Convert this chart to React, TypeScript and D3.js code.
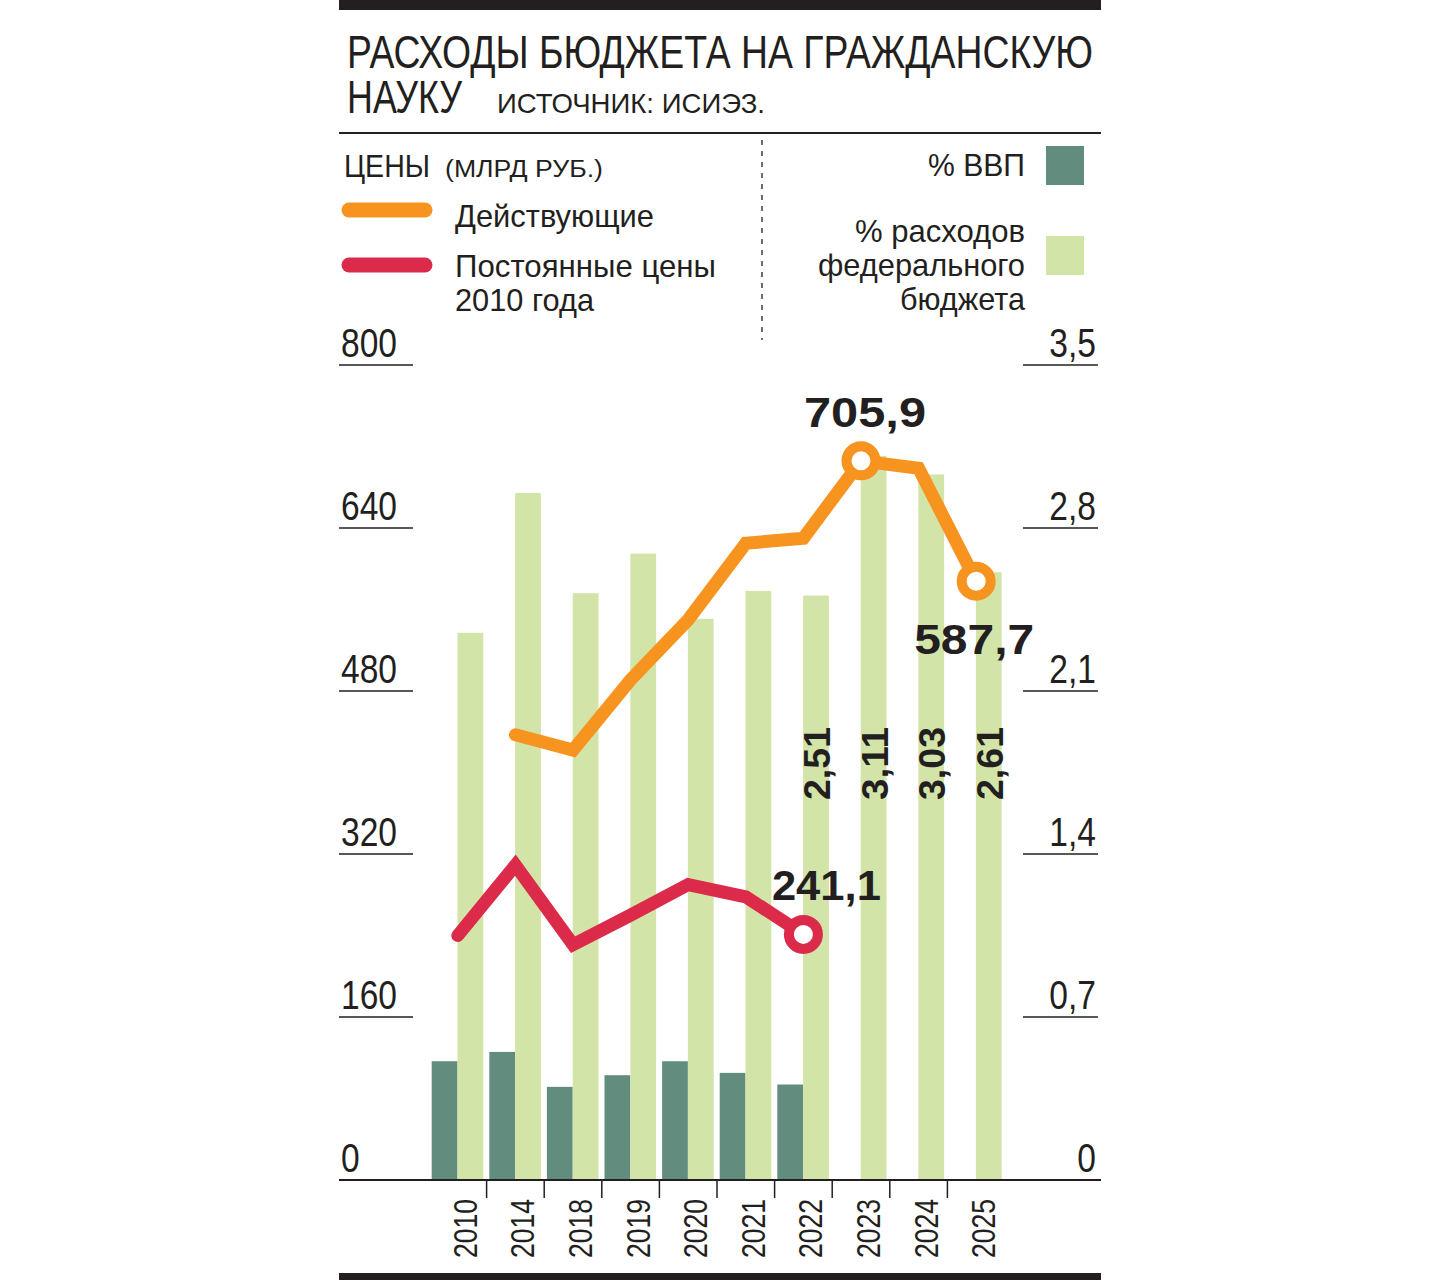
import React from "react";
import * as d3 from "d3";

const years = ["2010", "2014", "2018", "2019", "2020", "2021", "2022", "2023", "2024", "2025"];
const gdpShare: (number | null)[] = [0.51, 0.55, 0.4, 0.45, 0.51, 0.46, 0.41, null, null, null];
const budgetShare = [2.35, 2.95, 2.52, 2.69, 2.41, 2.53, 2.51, 3.11, 3.03, 2.61];
const budgetShareLabels = ["", "", "", "", "", "", "2,51", "3,11", "3,03", "2,61"];
const currentPrices: (number | null)[] = [null, 437, 422, 491, 550, 625, 630, 705.9, 698.6, 587.7];
const constantPrices: (number | null)[] = [240, 309, 231, 260, 290, 278, 241.1, null, null, null];
const leftTicks = [0, 160, 320, 480, 640, 800];
const rightTicks = [0, 0.7, 1.4, 2.1, 2.8, 3.5];

const C_TEXT = "#231f20";
const C_ORANGE = "#f7941f";
const C_RED = "#dc2a4b";
const C_DARK = "#628c7e";
const C_LIGHT = "#d3e4a9";
const NARROW = "'Liberation Sans Narrow', 'Arial Narrow', 'Liberation Sans', Arial, sans-serif";
const SANS = "'Liberation Sans', Arial, sans-serif";

export default function App() {
  const x = d3.scaleBand<string>().domain(years).range([429, 1005]).paddingInner(0).paddingOuter(0);
  const yL = d3.scaleLinear().domain([0, 800]).range([1180, 365]);
  const yR = d3.scaleLinear().domain([0, 3.5]).range([1180, 365]);
  const bw = x.bandwidth();
  const cx = (y: string) => (x(y) as number) + bw / 2;

  const mkLine = (vals: (number | null)[]) =>
    d3
      .line<number>()
      .defined((_, i) => vals[i] != null)
      .x((_, i) => cx(years[i]))
      .y((_, i) => yL(vals[i] as number))(vals.map((v) => (v == null ? 0 : v)));

  const fmtR = (v: number) => (v === 0 ? "0" : d3.format(".1f")(v).replace(".", ","));

  const lastIdx = (vals: (number | null)[]) => {
    let k = -1;
    vals.forEach((v, i) => { if (v != null) k = i; });
    return k;
  };
  const maxIdx = currentPrices.indexOf(d3.max(currentPrices as number[]) as number);
  const curLast = lastIdx(currentPrices);
  const conLast = lastIdx(constantPrices);

  return (
    <svg width={1440} height={1280} style={{ position: "absolute", left: 0, top: 0, background: "#fff" }}>
      {/* frame */}
      <rect x={339} y={0} width={762} height={10} fill={C_TEXT} />
      <rect x={339} y={1273} width={762} height={7} fill={C_TEXT} />
      <line x1={339} x2={1101} y1={133} y2={133} stroke={C_TEXT} strokeWidth={2} />
      <line x1={762} x2={762} y1={140} y2={340} stroke={C_TEXT} strokeWidth={1.3} strokeDasharray="5 6" />

      {/* title */}
      <text x={347} y={68} fontFamily={NARROW} fontSize={46} fill={C_TEXT} textLength={746} lengthAdjust="spacingAndGlyphs">
        РАСХОДЫ БЮДЖЕТА НА ГРАЖДАНСКУЮ
      </text>
      <text x={347} y={113} fontFamily={NARROW} fontSize={46} fill={C_TEXT} textLength={115} lengthAdjust="spacingAndGlyphs">
        НАУКУ
      </text>
      <text x={497} y={113} fontFamily={NARROW} fontSize={28} fill={C_TEXT} textLength={268} lengthAdjust="spacingAndGlyphs">
        ИСТОЧНИК: ИСИЭЗ.
      </text>

      {/* left legend */}
      <text x={344} y={177} fontFamily={NARROW} fontSize={32} fill={C_TEXT} textLength={86} lengthAdjust="spacingAndGlyphs">ЦЕНЫ</text>
      <text x={445} y={177} fontFamily={NARROW} fontSize={23} fill={C_TEXT} textLength={158} lengthAdjust="spacingAndGlyphs">(МЛРД РУБ.)</text>
      <line x1={349} x2={425} y1={210} y2={210} stroke={C_ORANGE} strokeWidth={15} strokeLinecap="round" />
      <text x={455} y={227} fontFamily={NARROW} fontSize={32} fill={C_TEXT} textLength={199} lengthAdjust="spacingAndGlyphs">Действующие</text>
      <line x1={349} x2={425} y1={265} y2={265} stroke={C_RED} strokeWidth={15} strokeLinecap="round" />
      <text x={455} y={277} fontFamily={NARROW} fontSize={32} fill={C_TEXT} textLength={261} lengthAdjust="spacingAndGlyphs">Постоянные цены</text>
      <text x={455} y={311} fontFamily={NARROW} fontSize={32} fill={C_TEXT} textLength={139} lengthAdjust="spacingAndGlyphs">2010 года</text>

      {/* right legend */}
      <text x={1025} y={176} textAnchor="end" fontFamily={NARROW} fontSize={32} fill={C_TEXT} textLength={97} lengthAdjust="spacingAndGlyphs">% ВВП</text>
      <rect x={1046} y={146} width={38} height={39} fill={C_DARK} />
      <text x={1025} y={242} textAnchor="end" fontFamily={NARROW} fontSize={32} fill={C_TEXT} textLength={170} lengthAdjust="spacingAndGlyphs">% расходов</text>
      <text x={1025} y={276} textAnchor="end" fontFamily={NARROW} fontSize={32} fill={C_TEXT} textLength={207} lengthAdjust="spacingAndGlyphs">федерального</text>
      <text x={1025} y={310} textAnchor="end" fontFamily={NARROW} fontSize={32} fill={C_TEXT} textLength={125} lengthAdjust="spacingAndGlyphs">бюджета</text>
      <rect x={1046} y={236} width={38} height={39} fill={C_LIGHT} />

      {/* axes ticks */}
      {leftTicks.map((t) => (
        <g key={"l" + t}>
          {t !== 0 && <line x1={339} x2={413} y1={yL(t)} y2={yL(t)} stroke={C_TEXT} strokeWidth={1.5} />}
          <text transform={`translate(341,${yL(t) - 8}) scale(0.84,1)`} fontFamily={NARROW} fontSize={40} fill={C_TEXT}>{t}</text>
        </g>
      ))}
      {rightTicks.map((t) => (
        <g key={"r" + t}>
          {t !== 0 && <line x1={1023} x2={1098} y1={yR(t)} y2={yR(t)} stroke={C_TEXT} strokeWidth={1.5} />}
          <text transform={`translate(1096,${yR(t) - 8}) scale(0.84,1)`} textAnchor="end" fontFamily={NARROW} fontSize={40} fill={C_TEXT}>{fmtR(t)}</text>
        </g>
      ))}

      {/* bars */}
      {years.map((y, i) => (
        <g key={"b" + y}>
          {gdpShare[i] != null && (
            <rect x={(x(y) as number) + 2.7} y={yR(gdpShare[i] as number)} width={25.8} height={1180 - yR(gdpShare[i] as number)} fill={C_DARK} />
          )}
          <rect x={(x(y) as number) + 28.5} y={yR(budgetShare[i])} width={25.8} height={1180 - yR(budgetShare[i])} fill={C_LIGHT} />
        </g>
      ))}

      {/* baseline and category ticks */}
      <line x1={339} x2={1101} y1={1180} y2={1180} stroke={C_TEXT} strokeWidth={2} />
      {years.slice(1).map((y) => (
        <line key={"t" + y} x1={x(y) as number} x2={x(y) as number} y1={1180} y2={1198} stroke={C_TEXT} strokeWidth={1.5} />
      ))}
      {years.map((y) => (
        <text key={"yl" + y} transform={`translate(${cx(y) + 19},1199) rotate(-90) scale(0.78,1)`} textAnchor="end" fontFamily={NARROW} fontSize={34} fill={C_TEXT}>
          {y}
        </text>
      ))}

      {/* bar value labels */}
      {years.map((y, i) =>
        budgetShareLabels[i] ? (
          <text key={"bl" + y} transform={`translate(${(x(y) as number) + 28.5 + 12.9 + 14},727) rotate(-90)`} textAnchor="end" fontFamily={SANS} fontWeight="bold" fontSize={37} fill={C_TEXT} textLength={73} lengthAdjust="spacingAndGlyphs">
            {budgetShareLabels[i]}
          </text>
        ) : null
      )}

      {/* lines */}
      <path d={mkLine(currentPrices) || ""} fill="none" stroke={C_ORANGE} strokeWidth={13} strokeLinecap="round" strokeLinejoin="miter" />
      <path d={mkLine(constantPrices) || ""} fill="none" stroke={C_RED} strokeWidth={13} strokeLinecap="round" strokeLinejoin="miter" />

      {/* markers */}
      {[maxIdx, curLast].map((i) => (
        <circle key={"oc" + i} cx={cx(years[i])} cy={yL(currentPrices[i] as number)} r={14.5} fill="#fff" stroke={C_ORANGE} strokeWidth={10} />
      ))}
      <circle cx={cx(years[conLast])} cy={yL(constantPrices[conLast] as number)} r={14.5} fill="#fff" stroke={C_RED} strokeWidth={10} />

      {/* value labels */}
      <text x={cx(years[maxIdx]) + 4} y={yL(currentPrices[maxIdx] as number) - 34} textAnchor="middle" fontFamily={SANS} fontWeight="bold" fontSize={42} fill={C_TEXT} textLength={122} lengthAdjust="spacingAndGlyphs">
        {String(currentPrices[maxIdx]).replace(".", ",")}
      </text>
      <text x={cx(years[curLast]) - 2} y={yL(currentPrices[curLast] as number) + 73} textAnchor="middle" fontFamily={SANS} fontWeight="bold" fontSize={42} fill={C_TEXT} textLength={120} lengthAdjust="spacingAndGlyphs">
        {String(currentPrices[curLast]).replace(".", ",")}
      </text>
      <text x={cx(years[conLast]) + 23} y={yL(constantPrices[conLast] as number) - 34} textAnchor="middle" fontFamily={SANS} fontWeight="bold" fontSize={42} fill={C_TEXT} textLength={109} lengthAdjust="spacingAndGlyphs">
        {String(constantPrices[conLast]).replace(".", ",")}
      </text>
    </svg>
  );
}
